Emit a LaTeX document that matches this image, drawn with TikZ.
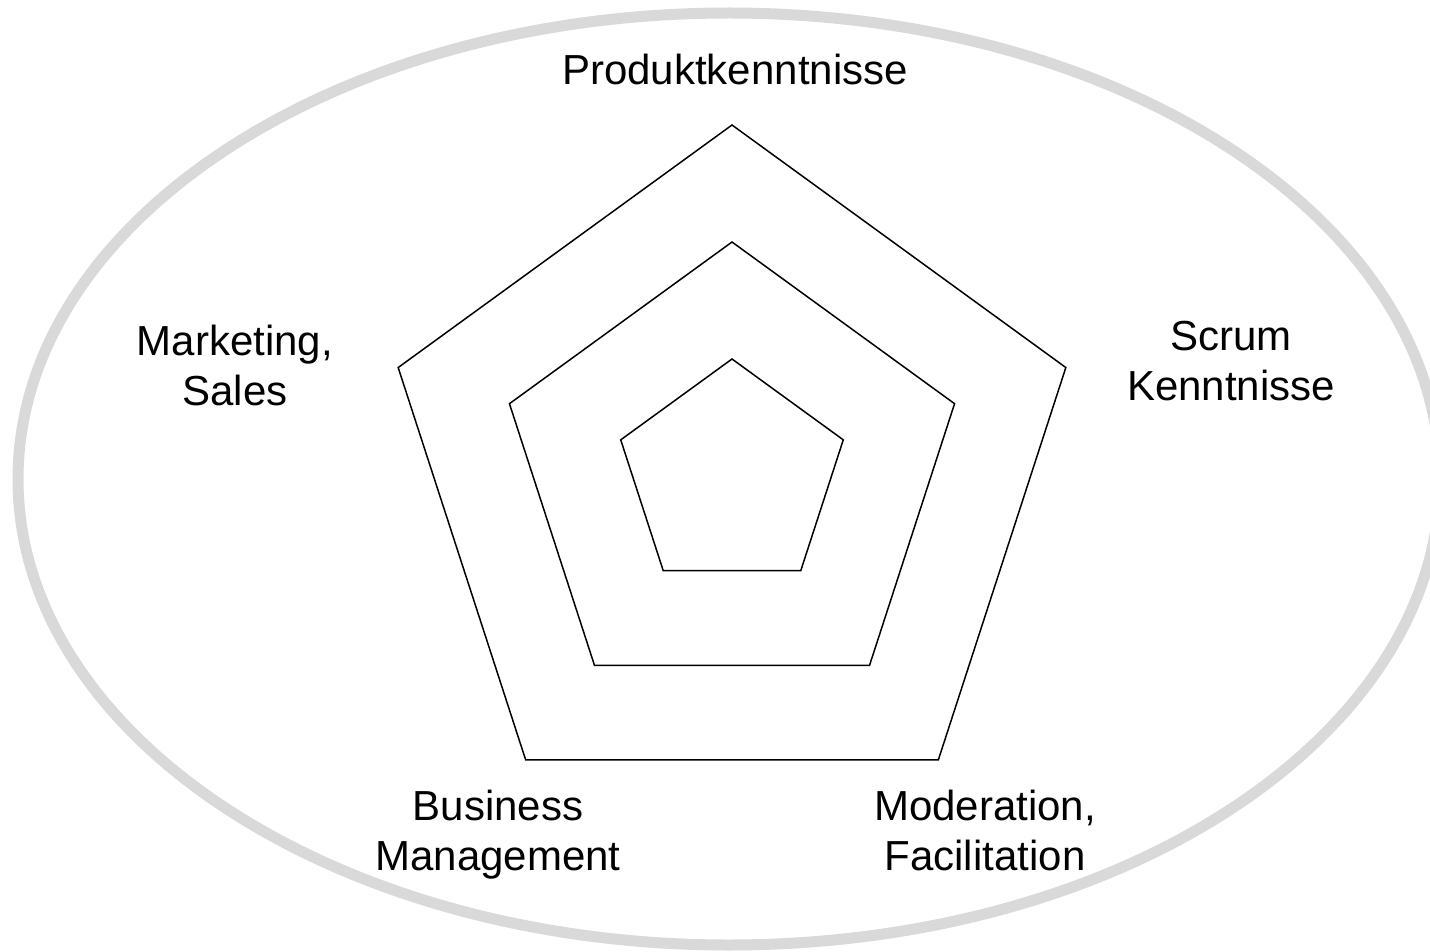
\documentclass[tikz,border=0pt]{standalone}
\usepackage{fontspec}
\setmainfont{Liberation Sans}
\usetikzlibrary{calc}
\begin{document}
\begin{tikzpicture}[x=1pt,y=-1pt,
  lbl/.style={align=center,inner sep=0pt,font=\fontsize{42}{50}\selectfont},
  pent/.style={draw=black,line width=1.5pt,line join=miter}]
\useasboundingbox (0,0) rectangle (1430,952);
\fill[white] (0,0) rectangle (1430,952);
\draw[draw={rgb,255:red,217;green,217;blue,217},line width=11pt] (729,479) ellipse [x radius=711, y radius=466];
\coordinate (c) at (732,476);
\foreach \r in {117,234,351} {
  \draw[pent] ($(c)+(-90:\r)$) -- ($(c)+(-18:\r)$) -- ($(c)+(54:\r)$) -- ($(c)+(126:\r)$) -- ($(c)+(198:\r)$) -- cycle;
}
\node[lbl,anchor=base] (p) at (735,85) {Produktkenntnisse};
\node[lbl,anchor=base] (m) at (235,405) {Marketing,\\Sales};
\node[lbl,anchor=base] (s) at (1231,400) {Scrum\\Kenntnisse};
\node[lbl,anchor=base] (b) at (498,870) {Business\\Management};
\node[lbl,anchor=base] (f) at (985,870) {Moderation,\\Facilitation};
\end{tikzpicture}
\end{document}
